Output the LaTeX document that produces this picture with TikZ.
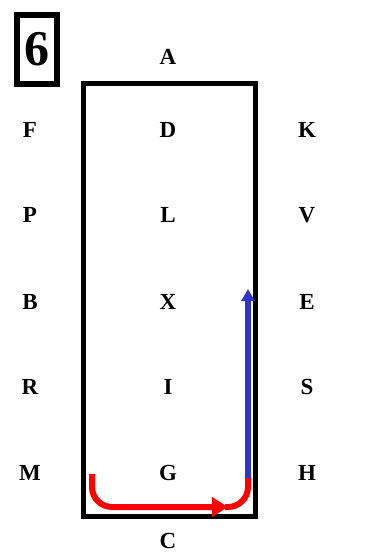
\documentclass[tikz,border=0pt]{standalone}
\usepackage{xcolor}
\usepackage{fontspec}
\setmainfont{Liberation Serif}
\usepackage{tikz}
\usetikzlibrary{arrows.meta}
\definecolor{pathblue}{RGB}{52,52,200}
\tikzset{
  ltr/.style={font=\bfseries\fontsize{23}{23}\selectfont, inner sep=0pt},
}

\begin{document}
\begin{tikzpicture}[x=1pt, y=-1pt]
                \useasboundingbox (0,0) rectangle (372,556);
                \node[draw, line width=6pt, minimum width=40pt, minimum height=69pt, inner sep=0pt,
                      font=\bfseries\fontsize{50}{50}\selectfont] (num) at (37,49.5) {6};
                \draw[line width=5pt] (83,83.5) rectangle (255,516);
                \node[ltr] (A) at (168,57) {A};
                \node[ltr] (F) at (30,130) {F};
                \node[ltr] (D) at (168,130) {D};
                \node[ltr] (K) at (307,130) {K};
                \node[ltr] (P) at (30,215) {P};
                \node[ltr] (L) at (168,215) {L};
                \node[ltr] (V) at (307,215) {V};
                \node[ltr] (B) at (30,302) {B};
                \node[ltr] (X) at (168,302) {X};
                \node[ltr] (E) at (307,302) {E};
                \node[ltr] (R) at (30,387) {R};
                \node[ltr] (I) at (168,387) {I};
                \node[ltr] (S) at (307,387) {S};
                \node[ltr] (M) at (30,473) {M};
                \node[ltr] (G) at (168,473) {G};
                \node[ltr] (H) at (307,473) {H};
                \node[ltr] (C) at (168,541) {C};
                \coordinate (start) at (92,474);
                \coordinate (tip) at (228,507);
                \coordinate (turn) at (248,478);
                \coordinate (top) at (248,289);
                \draw[red, line width=6pt, rounded corners=20pt, -{Triangle[length=16pt,width=19pt]}] (start) |- (tip);
                \draw[red, line width=6pt, rounded corners=20pt] ([xshift=-3pt]tip) -| (turn);
                \draw[pathblue, line width=6pt, -{Triangle[length=12pt,width=13pt]}] (turn) -- (top);
            \end{tikzpicture}
\end{document}
